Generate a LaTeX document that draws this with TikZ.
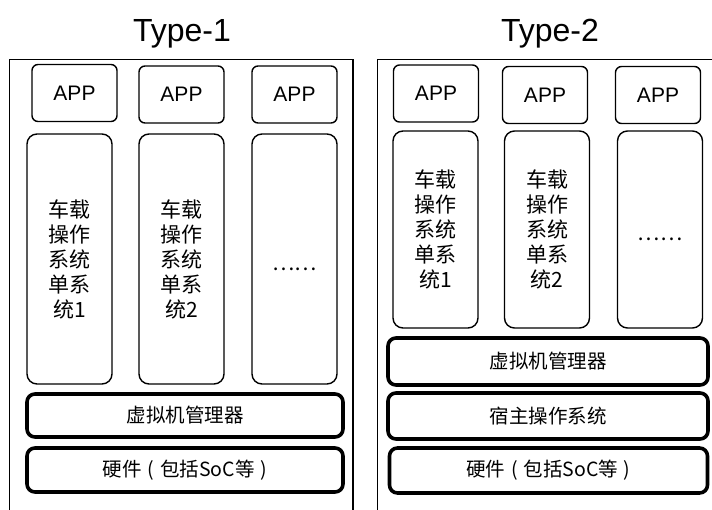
\documentclass[tikz,border=0pt]{standalone}
\usepackage{fontspec}
\setmainfont{Liberation Sans}
\newfontfamily\cjk{Noto Sans CJK SC}
\newcommand{\hwtext}{硬件\hspace{0.3em}(\hspace{0.3em}包括SoC等\hspace{0.3em})}
\newcommand{\moredots}{\raisebox{-11pt}[0pt][0pt]{……}}
\begin{document}
\begin{tikzpicture}[x=1pt,y=-1pt,
  box/.style={draw=black,line width=1.4pt,fill=white,inner sep=0pt,align=center},
  appbox/.style={box,rounded corners=6pt,minimum width=85pt,minimum height=57pt,font=\fontsize{21}{24}\selectfont},
  osbox/.style={box,rounded corners=10pt,minimum width=85pt,font=\cjk\fontsize{21}{25}\selectfont},
  layer/.style={box,line width=3.6pt,rounded corners=8pt,font=\cjk\fontsize{19.5}{22}\selectfont},
  title/.style={font=\fontsize{32}{36}\selectfont,inner sep=0pt,anchor=base}]
\useasboundingbox (0,0) rectangle (712,509);
\clip (0,0) rectangle (712,509);
\fill[white] (0,0) rectangle (712,509);
% titles
\node[title] (t1) at (182,41) {Type-1};
\node[title] (t2) at (550,41) {Type-2};
% outer frames
\draw[line width=1.3pt] (9.5,530) -- (9.5,59.5) -- (353,59.5) -- (353,530);
\draw[line width=1.3pt] (377.5,530) -- (377.5,59.5) -- (730,59.5);
% Type-1
\node[appbox] (la1) at (74.5,93) {APP};
\node[appbox] (la2) at (181.5,94.5) {APP};
\node[appbox] (la3) at (294.5,94.5) {APP};
\node[osbox,minimum height=250pt] (lo1) at (69.5,259) {车载\\操作\\系统\\单系\\统1};
\node[osbox,minimum height=250pt] (lo2) at (181.5,259) {车载\\操作\\系统\\单系\\统2};
\node[osbox,minimum height=250pt] (lo3) at (294.5,259) {\moredots};
\node[layer,minimum width=316pt,minimum height=43pt] (lv) at (185,415.5) {虚拟机管理器};
\node[layer,minimum width=316pt,minimum height=44pt] (lh) at (185,470) {\hwtext};
% Type-2
\node[appbox] (ra1) at (436,93.5) {APP};
\node[appbox] (ra2) at (545,95) {APP};
\node[appbox] (ra3) at (658,95) {APP};
\node[osbox,minimum height=197pt] (ro1) at (435.5,229.5) {车载\\操作\\系统\\单系\\统1};
\node[osbox,minimum height=197pt] (ro2) at (547,229.5) {车载\\操作\\系统\\单系\\统2};
\node[osbox,minimum height=197pt] (ro3) at (660,229.5) {\moredots};
\node[layer,minimum width=320pt,minimum height=47pt] (rv) at (548,361.5) {虚拟机管理器};
\node[layer,minimum width=320pt,minimum height=46pt] (rs) at (548,416) {宿主操作系统};
\node[layer,minimum width=318pt,minimum height=45pt] (rh) at (548.5,470.5) {\hwtext};
\end{tikzpicture}
\end{document}
